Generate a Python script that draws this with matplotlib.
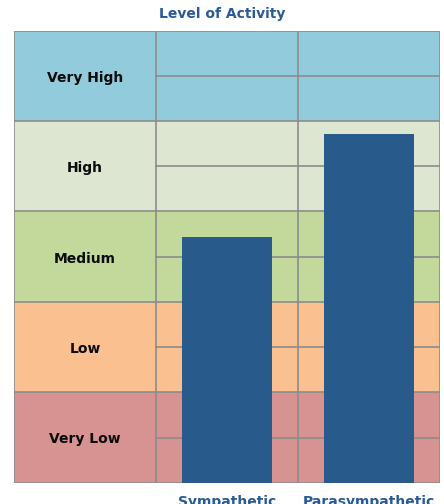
import matplotlib.pyplot as plt

levels = ['Very Low', 'Low', 'Medium', 'High', 'Very High']
level_colors = ['#d79391', '#fbc08f', '#c3d89b', '#dde6d0', '#92cbdc']
systems = ['Sympathetic', 'Parasympathetic']
activity = [2.72, 3.86]

fig = plt.figure(figsize=(4.44, 5.04), dpi=100)
ax = fig.add_axes([14 / 444, 1 - 482.7 / 504, 426 / 444, 452 / 504])

# coloured bands, one per level
for i, c in enumerate(level_colors):
    ax.axhspan(i, i + 1, color=c, zorder=0, lw=0)
    ax.text(0.5, i + 0.48, levels[i], ha='center', va='center',
            fontsize=10, fontweight='bold', color='#0a0a0a')

grid = '#8c8c8c'
for i in range(6):
    ax.plot([0, 3], [i, i], color=grid, lw=1.2, zorder=1)
for i in range(5):
    ax.plot([1, 3], [i + 0.5, i + 0.5], color=grid, lw=1.2, zorder=1)
for x in [0, 1, 2, 3]:
    ax.plot([x, x], [0, 5], color=grid, lw=1.2, zorder=1)

xs = [1.5, 2.5]
ax.bar(xs, activity, width=0.63, color='#285b8c', zorder=2)

ax.set_xlim(0, 3)
ax.set_ylim(0, 5)
ax.set_yticks([])
ax.set_xticks(xs)
ax.set_xticklabels(systems, fontsize=10, fontweight='bold', color='#2a5a95')
ax.tick_params(axis='x', length=0, pad=8.5)
for s in ax.spines.values():
    s.set_visible(False)

fig.text(0.5, 1 - 14 / 504, 'Level of Activity', ha='center', va='center',
         fontsize=10, fontweight='bold', color='#2a5a95')

fig.savefig('out.png', dpi=100)
